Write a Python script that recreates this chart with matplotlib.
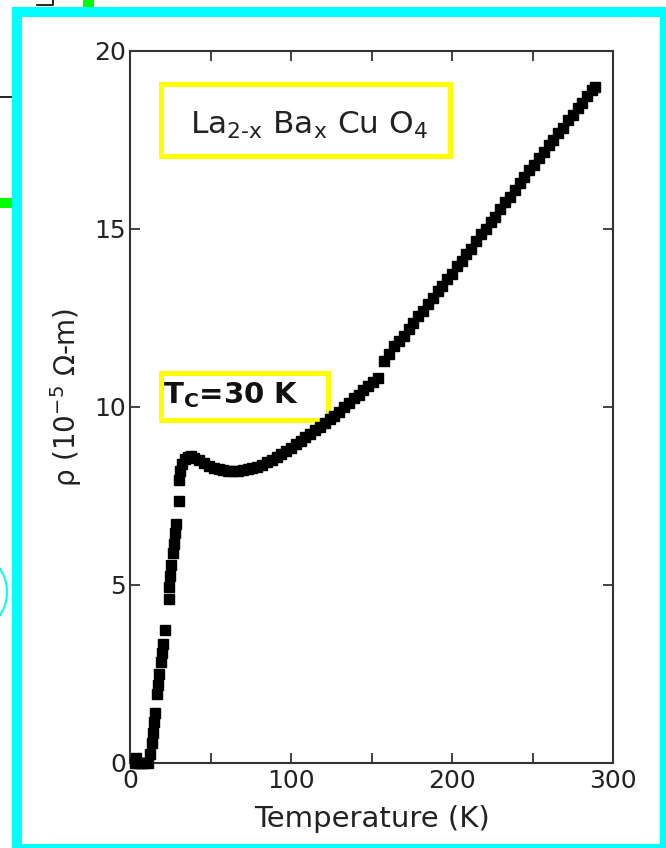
import matplotlib
matplotlib.use("Agg")
import matplotlib.pyplot as plt
from matplotlib.patches import Rectangle, Circle
from matplotlib.lines import Line2D

# resistivity of La(2-x)Ba(x)CuO4
temp_K = [3, 5, 7, 9, 11, 4, 12.5, 13.5, 14.5, 15, 15.5, 17, 17.5, 18, 19.5, 20, 20.5, 21.5,
          24, 24.5, 25, 25.5, 27, 27.5, 28, 28.5, 30.5, 30.5, 31, 32, 34, 36, 38, 40,
          43, 46, 49, 52, 55, 58, 61, 64, 67, 70, 73, 76, 79, 82, 85, 88, 91, 94, 97,
          100, 103, 106, 109, 112, 115, 118, 121, 124, 127, 130, 133, 136, 139, 142,
          145, 148, 151, 154,
          158, 161, 164, 167, 170, 173, 176, 179, 182, 185, 188, 191, 194, 197, 200,
          203, 206, 209, 212, 215, 218, 221, 224, 227, 230, 233, 236, 239, 242, 245,
          248, 251, 254, 257, 260, 263, 266, 269, 272, 275, 278, 281, 284, 287, 289]
rho = [0, 0, 0, 0, 0, 0.15, 0.25, 0.55, 0.85, 1.15, 1.4, 1.95, 2.2, 2.5, 2.85, 3.1, 3.35, 3.75,
       4.6, 4.95, 5.25, 5.55, 5.9, 6.15, 6.45, 6.7, 7.35, 7.95, 8.2, 8.4, 8.55, 8.6, 8.62, 8.58,
       8.5, 8.42, 8.35, 8.3, 8.27, 8.23, 8.2, 8.2, 8.2, 8.22, 8.25, 8.28, 8.32, 8.38, 8.45, 8.52,
       8.6, 8.68, 8.77,
       8.85, 8.95, 9.05, 9.15, 9.25, 9.35, 9.45, 9.55, 9.65, 9.75, 9.87, 10.0, 10.12, 10.25,
       10.35, 10.47, 10.58, 10.7, 10.82,
       11.3, 11.5, 11.7, 11.85, 12.0, 12.2, 12.35, 12.55, 12.7, 12.9, 13.05, 13.25, 13.4,
       13.6, 13.75, 13.95, 14.1, 14.3, 14.45, 14.65, 14.85, 15.0, 15.2, 15.35, 15.55, 15.75,
       15.9, 16.1, 16.3, 16.45, 16.65, 16.8, 17.0, 17.15, 17.35, 17.5, 17.7, 17.85, 18.05,
       18.2, 18.4, 18.55, 18.75, 18.9, 19.0]

x_ticks = [0, 100, 200, 300]
x_minor = [50, 150, 250]
y_ticks = [0, 5, 10, 15, 20]

W, H = 666, 848

def fx(px):
    return px / W

def fy(py):
    return 1 - py / H

fig = plt.figure(figsize=(W / 100, H / 100), dpi=100)
fig.patch.set_facecolor('white')

ax_l, ax_r, ax_t, ax_b = 130, 613, 51, 763
ax = fig.add_axes([fx(ax_l), fy(ax_b), (ax_r - ax_l) / W, (ax_b - ax_t) / H])
ax.set_xlim(0, 300)
ax.set_ylim(0, 20)

ax.plot(temp_K, rho, linestyle='none', marker='s', ms=7.5, color='black',
        mec='black', clip_on=False, zorder=4)

for s in ax.spines.values():
    s.set_linewidth(1.5)
    s.set_color('#333333')

ax.set_xticks(x_ticks)
ax.set_xticks(x_minor, minor=True)
ax.set_yticks(y_ticks)
ax.tick_params(axis='both', which='both', direction='in', top=True, right=True,
               length=7, width=1.3, color='#333333', labelsize=18, labelcolor='#222222')
ax.tick_params(axis='x', pad=4)
ax.tick_params(axis='y', pad=3)

ax.set_xlabel('Temperature (K)', fontsize=21, color='#222222', labelpad=9)
ax.set_ylabel(r'ρ (10$^{-5}$ Ω-m)', fontsize=20, color='#222222')
ax.yaxis.set_label_coords((84 - ax_l) / (ax_r - ax_l), (ax_b - 397) / (ax_b - ax_t))

# yellow boxes round the annotations
def ybox(x0, y0, x1, y1):
    r = Rectangle((fx(x0), fy(y1)), (x1 - x0) / W, (y1 - y0) / H, transform=fig.transFigure,
                  fill=False, edgecolor='#ffff00', linewidth=3.6, zorder=3, clip_on=False)
    ax.add_artist(r)

ybox(160.5, 84.5, 449.5, 155.5)
ybox(160.5, 372.5, 327.5, 419.5)

fig.text(fx(190), fy(134), r'La$_{\mathrm{2\text{-}x}}$ Ba$_{\mathrm{x}}$ Cu O$_{\mathrm{4}}$',
         fontsize=22.5, color='#222222', ha='left', va='baseline')
fig.text(fx(163), fy(403), r'T$_{\mathbf{C}}$=30 K', fontsize=21, fontweight='bold',
         color='#111111', ha='left', va='baseline')

# cyan frame and the bits of neighbouring graphics at the edges
fig.patches.append(Rectangle((fx(17), fy(849)), (665 - 17) / W, (849 - 12) / H,
                             transform=fig.transFigure, fill=False, edgecolor='#00ffff',
                             linewidth=7.2, zorder=5))
fig.patches.append(Rectangle((fx(83), fy(7)), 11 / W, 7 / H, transform=fig.transFigure,
                             facecolor='#00ff00', edgecolor='none', zorder=5))
fig.patches.append(Rectangle((fx(0), fy(208)), 12 / W, 10 / H, transform=fig.transFigure,
                             facecolor='#00ff00', edgecolor='none', zorder=5))
fig.lines.append(Line2D([fx(0), fx(12)], [fy(97), fy(97)], transform=fig.transFigure,
                        color='black', linewidth=1.2))
fig.lines.append(Line2D([fx(37), fx(53), fx(53)], [fy(5), fy(5), fy(0)],
                        transform=fig.transFigure, color='black', linewidth=1.2))
fig.patches.append(Circle((fx(-20), fy(592)), 27 / W, transform=fig.transFigure,
                          fill=False, edgecolor='#00ffff', linewidth=1.5))

fig.savefig('out.png', dpi=100)
